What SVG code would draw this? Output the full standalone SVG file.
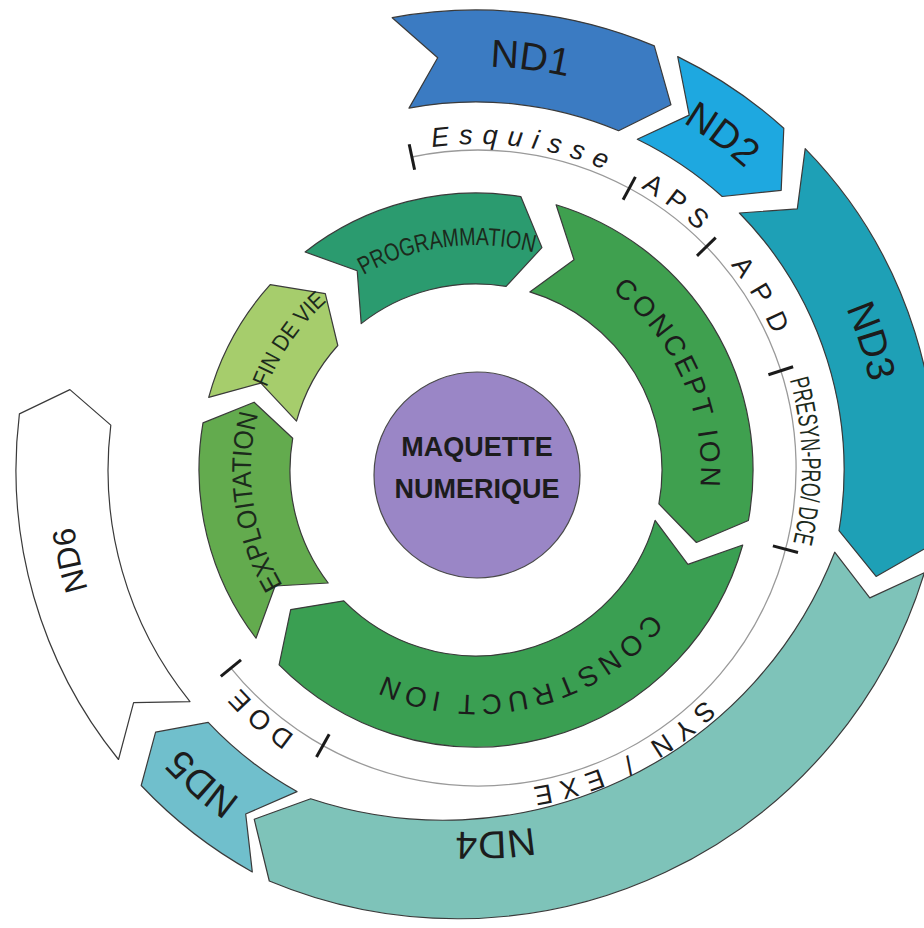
<svg xmlns="http://www.w3.org/2000/svg" xmlns:xlink="http://www.w3.org/1999/xlink" width="924" height="928" viewBox="0 0 924 928">
<style>
.sh{stroke:#3a3a3a;stroke-width:1.2;stroke-linejoin:round}
.lbl{font-family:"Liberation Sans",Arial,sans-serif;fill:#1c1c1c}
.nd{font-size:39px}
.rg{font-size:27px}
.cd{font-family:"Liberation Sans Narrow","Liberation Sans",Arial,sans-serif;fill:#1c2a1c}
.tick{stroke:#1a1a1a;stroke-width:3;stroke-linecap:butt}
</style>
<defs>
<path id="pND" d="M782.4,727.1 A400,400 0 1 1 169.6,212.9 A400,400 0 1 1 782.4,727.1"/>
<path id="pND4" d="M753.3,702.7 A362,362 0 1 1 198.7,237.3 A362,362 0 1 1 753.3,702.7"/>
<path id="pND6" d="M787.0,731.0 A406,406 0 1 1 165.0,209.0 A406,406 0 1 1 787.0,731.0"/>
<path id="pTL" d="M154,468 A324,324 0 1 1 802,468 A324,324 0 1 1 154,468"/>
<path id="pG" d="M331.4,642.4 A225,225 0 1 1 620.6,297.6 A225,225 0 1 1 331.4,642.4"/>
</defs>
<rect width="924" height="928" fill="#ffffff"/>

<g id="nd1">
<path class="sh" fill="#3b7bc2" d="M392.2,17.7 A460,460 0 0 1 654.3,45.9 L671.0,104.8 L618.6,130.7 A368,368 0 0 0 409.0,108.1 L437.7,57.8 Z"/>
<text class="lbl nd"><textPath href="#pND" xlink:href="#pND" startOffset="1668.5" text-anchor="middle">ND1</textPath></text>
</g>
<g id="nd2">
<path class="sh" fill="#1ea8e0" d="M677.7,56.6 A460,460 0 0 1 783.8,128.2 L781.2,190.3 L722.2,196.5 A368,368 0 0 0 637.3,139.2 L689.2,115.1 Z"/>
<text class="lbl nd"><textPath href="#pND" xlink:href="#pND" startOffset="1871" text-anchor="middle">ND2</textPath></text>
</g>
<g id="nd3">
<path class="sh" fill="#1ea0b6" d="M805.2,148.7 A460,460 0 0 1 929.7,545.9 L876.1,576.4 L839.0,530.7 A368,368 0 0 0 739.4,213.0 L797.3,208.9 Z"/>
<text class="lbl nd" font-size="41"><textPath href="#pND" xlink:href="#pND" startOffset="2122.3" text-anchor="middle">ND3</textPath></text>
</g>
<g id="nd4">
<path class="sh" fill="#7ec3b9" d="M924.4,572.7 A488,488 0 0 1 269.3,881.0 L254.2,819.2 L310.7,798.8 A420,420 0 0 0 834.7,552.2 L869.8,597.9 Z"/>
<text class="lbl nd" font-size="40"><textPath href="#pND4" xlink:href="#pND4" startOffset="296.9" text-anchor="middle">ND4</textPath></text>
</g>
<g id="nd5">
<path class="sh" fill="#70bfcc" d="M252.3,871.9 A460,460 0 0 1 141.2,785.5 L155.6,732.2 L208.2,722.4 A368,368 0 0 0 297.0,791.6 L245.7,814.0 Z"/>
<text class="lbl nd" font-size="40"><textPath href="#pND" xlink:href="#pND" startOffset="640.2" text-anchor="middle">ND5</textPath></text>
</g>
<g id="nd6">
<path class="sh" fill="#ffffff" stroke="#666" d="M118.5,759.5 A460,460 0 0 1 19.4,413.9 L69.9,389.6 L110.8,425.1 A368,368 0 0 0 190.0,701.6 L133.6,702.7 Z"/>
<text class="lbl" font-size="32"><textPath href="#pND6" xlink:href="#pND6" startOffset="902.8" text-anchor="middle">ND6</textPath></text>
</g>

<g id="timeline">
<path d="M411.9,157.0 A318,318 0 1 1 230.9,668.1" fill="none" stroke="#9a9a9a" stroke-width="1.3"/>
<line class="tick" x1="414.6" y1="169.7" x2="409.2" y2="144.2"/>
<line class="tick" x1="623.1" y1="199.7" x2="635.4" y2="176.9"/>
<line class="tick" x1="697.0" y1="255.8" x2="715.7" y2="237.7"/>
<line class="tick" x1="768.4" y1="374.8" x2="793.1" y2="366.8"/>
<line class="tick" x1="772.9" y1="545.9" x2="798.0" y2="552.5"/>
<line class="tick" x1="329.2" y1="734.2" x2="316.5" y2="756.9"/>
<line class="tick" x1="241.0" y1="659.9" x2="220.8" y2="676.3"/>
<text class="lbl rg" font-style="italic" letter-spacing="9.5"><textPath href="#pTL" xlink:href="#pTL" startOffset="555.3" text-anchor="middle">Esquisse</textPath></text>
<text class="lbl rg" font-size="28" letter-spacing="9"><textPath href="#pTL" xlink:href="#pTL" startOffset="719.9" text-anchor="middle">APS</textPath></text>
<text class="lbl rg" font-size="28" letter-spacing="13"><textPath href="#pTL" xlink:href="#pTL" startOffset="845.4" text-anchor="middle">APD</textPath></text>
<text class="lbl cd" font-size="27"><textPath href="#pTL" xlink:href="#pTL" startOffset="1010.5" text-anchor="middle" textLength="165" lengthAdjust="spacingAndGlyphs">PRESYN-PRO/ DCE</textPath></text>
<text class="lbl rg" letter-spacing="8"><textPath href="#pTL" xlink:href="#pTL" startOffset="1377" text-anchor="middle">SYN / EXE</textPath></text>
<text class="lbl rg" letter-spacing="7"><textPath href="#pTL" xlink:href="#pTL" startOffset="1760.4" text-anchor="middle">DOE</textPath></text>
</g>

<g id="programmation">
<path class="sh" fill="#2b9b6f" d="M305.1,252.0 A277,277 0 0 1 520.8,196.6 L541.9,247.6 L506.1,286.4 A186,186 0 0 0 361.2,323.6 L357.2,270.7 Z"/>
<text class="lbl cd" font-size="25"><textPath href="#pG" xlink:href="#pG" startOffset="519.9" text-anchor="middle" textLength="176" lengthAdjust="spacingAndGlyphs">PROGRAMMATION</textPath></text>
</g>
<g id="conception">
<path class="sh" fill="#3fa04f" d="M556.1,204.8 A277,277 0 0 1 748.4,520.5 L696.4,542.5 L658.9,503.9 A186,186 0 0 0 529.8,291.9 L574.0,259.7 Z"/>
<text class="lbl" font-size="28" letter-spacing="3"><textPath href="#pG" xlink:href="#pG" startOffset="809" text-anchor="middle">CONCEPT ION</textPath></text>
</g>
<g id="construction">
<path class="sh" fill="#3a9f52" d="M742.7,545.0 A277,277 0 0 1 279.1,664.8 L290.7,609.6 L343.8,600.8 A186,186 0 0 0 655.1,520.3 L687.9,564.4 Z"/>
<text class="lbl" font-size="28" letter-spacing="5"><textPath href="#pG" xlink:href="#pG" startOffset="1206.4" text-anchor="middle">CONSTRUCT ION</textPath></text>
</g>
<g id="exploitation">
<path class="sh" fill="#63ab4e" d="M256.0,638.2 A277,277 0 0 1 203.0,422.9 L254.1,402.2 L292.7,438.3 A186,186 0 0 0 328.2,583.0 L275.1,586.0 Z"/>
<text class="lbl cd" font-size="27"><textPath href="#pG" xlink:href="#pG" startOffset="164.1" text-anchor="middle" textLength="178" lengthAdjust="spacingAndGlyphs">EXPLOITATION</textPath></text>
</g>
<g id="findevie">
<path class="sh" fill="#a6cd6c" d="M208.7,397.4 A277,277 0 0 1 270.2,284.7 L325.3,293.6 L337.8,345.5 A186,186 0 0 0 296.5,421.2 L260.9,383.1 Z"/>
<text class="lbl cd" font-size="23"><textPath href="#pG" xlink:href="#pG" startOffset="333.8" text-anchor="middle" textLength="106" lengthAdjust="spacingAndGlyphs">FIN DE VIE</textPath></text>
</g>

<g id="maquette">
<circle cx="477" cy="475" r="103" fill="#9a86c6" stroke="#4a4a4a" stroke-width="1.2"/>
<text class="lbl" font-size="27" font-weight="bold" text-anchor="middle" x="477" y="456">MAQUETTE</text>
<text class="lbl" font-size="27" font-weight="bold" text-anchor="middle" x="477" y="498">NUMERIQUE</text>
</g>
</svg>
